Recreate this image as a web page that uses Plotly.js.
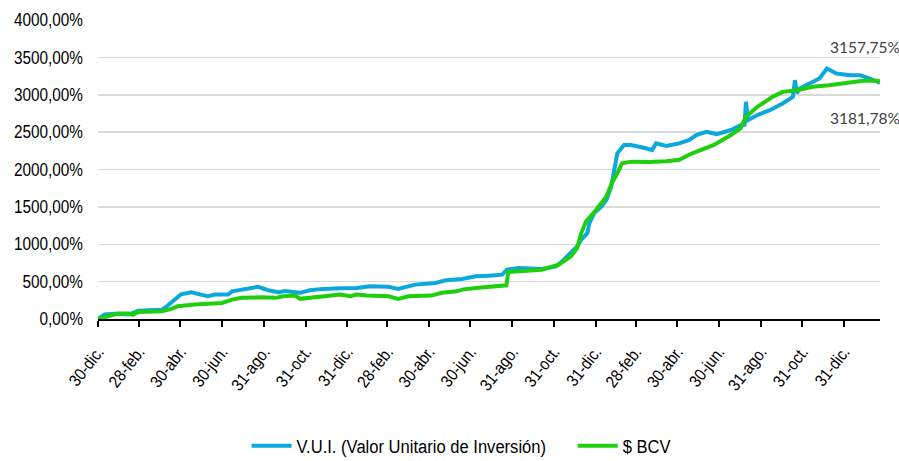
<!DOCTYPE html>
<html>
<head>
<meta charset="utf-8">
<script src="https://cdn.plot.ly/plotly-3.0.1.min.js"></script>
<style>
html,body{margin:0;padding:0;background:#fff;}
#chart{width:899px;height:461px;}
</style>
</head>
<body>
<div id="chart"></div>
<script>
// V.U.I. (Valor Unitario de Inversión) — rendimiento acumulado (%)
const vuiDates = ['2020-12-30','2021-01-09','2021-01-24','2021-02-13','2021-02-27','2021-03-17','2021-04-03','2021-04-10','2021-04-21','2021-05-01','2021-05-16','2021-05-25','2021-06-09','2021-06-20','2021-07-09','2021-07-15','2021-07-29','2021-08-18','2021-08-22','2021-09-06','2021-09-21','2021-10-01','2021-10-16','2021-10-23','2021-11-06','2021-11-26','2021-12-21','2022-01-14','2022-02-02','2022-03-02','2022-03-16','2022-04-10','2022-05-10','2022-05-25','2022-06-18','2022-07-08','2022-07-27','2022-08-16','2022-08-23','2022-09-09','2022-10-13','2022-11-03','2022-11-12','2022-11-25','2022-12-04','2022-12-10','2022-12-19','2022-12-22','2022-12-29','2023-01-09','2023-01-16','2023-01-23','2023-01-28','2023-02-01','2023-02-11','2023-02-21','2023-03-15','2023-03-24','2023-03-30','2023-04-14','2023-05-03','2023-05-18','2023-05-28','2023-06-12','2023-06-27','2023-07-18','2023-08-01','2023-08-07','2023-08-09','2023-08-12','2023-08-26','2023-09-13','2023-10-02','2023-10-17','2023-10-20','2023-10-23','2023-10-27','2023-11-11','2023-11-25','2023-12-06','2023-12-20','2024-01-09','2024-01-24','2024-02-07','2024-02-22'];
const vuiValues = [0,60,70,60,110,115,125,170,260,330,357,340,305,327,327,370,395,420,430,385,357,375,357,350,385,403,410,416,437,430,403,460,483,517,536,571,580,593,660,683,670,704,771,883,971,1060,1150,1283,1417,1505,1594,1771,2038,2217,2328,2328,2284,2260,2350,2314,2350,2395,2461,2505,2474,2528,2594,2600,2906,2661,2728,2794,2884,2972,3195,3020,3084,3150,3217,3350,3283,3261,3261,3217,3157.75];

// $ BCV — variación acumulada (%)
const bcvDates = ['2020-12-30','2021-01-13','2021-01-28','2021-02-13','2021-02-19','2021-02-27','2021-03-17','2021-04-03','2021-04-17','2021-04-26','2021-05-21','2021-06-16','2021-06-30','2021-07-15','2021-07-29','2021-08-28','2021-09-17','2021-09-28','2021-10-16','2021-10-23','2021-11-06','2021-11-26','2021-12-21','2022-01-05','2022-01-14','2022-01-29','2022-03-02','2022-03-16','2022-03-31','2022-05-04','2022-05-19','2022-06-10','2022-06-18','2022-07-08','2022-07-27','2022-08-16','2022-08-22','2022-08-25','2022-09-09','2022-10-13','2022-11-07','2022-11-25','2022-12-04','2022-12-10','2022-12-17','2023-01-01','2023-01-16','2023-01-24','2023-02-01','2023-02-08','2023-02-22','2023-03-20','2023-04-14','2023-05-03','2023-05-22','2023-06-23','2023-07-18','2023-08-01','2023-08-09','2023-08-26','2023-09-17','2023-10-02','2023-10-23','2023-11-15','2023-12-09','2024-01-04','2024-01-28','2024-02-18','2024-02-22'];
const bcvValues = [0,40,73,73,55,95,105,105,135,170,193,203,215,260,283,290,283,305,313,270,283,313,327,305,327,313,305,270,305,313,350,370,393,416,430,447,450,630,638,660,727,838,950,1150,1305,1461,1638,1817,1950,2083,2105,2100,2110,2130,2217,2328,2461,2550,2705,2839,2972,3039,3061,3106,3128,3159,3186,3186,3181.78];

// Eje X: fechas de marca y etiquetas
const tickDates = ['2020-12-30','2021-02-28','2021-04-30','2021-06-30','2021-08-31','2021-10-31','2021-12-31','2022-02-28','2022-04-30','2022-06-30','2022-08-31','2022-10-31','2022-12-31','2023-02-28','2023-04-30','2023-06-30','2023-08-31','2023-10-31','2023-12-31'];
const tickLabels = ['30-dic.','28-feb.','30-abr.','30-jun.','31-ago.','31-oct.','31-dic.','28-feb.','30-abr.','30-jun.','31-ago.','31-oct.','31-dic.','28-feb.','30-abr.','30-jun.','31-ago.','31-oct.','31-dic.'];

const seriesNames = ['V.U.I. (Valor Unitario de Inversión)', '$ BCV'];
const endLabels = ['3157,75%', '3181,78%'];

const FONT = '"Liberation Sans", Arial, sans-serif';

const traces = [
  {x: vuiDates, y: vuiValues, type: 'scatter', mode: 'lines', name: seriesNames[0],
   line: {color: '#0ba8de', width: 4}},
  {x: bcvDates, y: bcvValues, type: 'scatter', mode: 'lines', name: seriesNames[1],
   line: {color: '#1fcf0e', width: 4}}
];

const layout = {
  width: 899, height: 461,
  margin: {l: 98, r: 19, t: 20, b: 141.5, pad: 0, autoexpand: false},
  paper_bgcolor: '#ffffff', plot_bgcolor: '#ffffff',
  separators: ',.',
  font: {family: FONT, size: 16, color: '#000000'},
  showlegend: true,
  legend: {orientation: 'h', x: 0.19, xanchor: 'left', y: -0.425, yanchor: 'middle',
           font: {family: FONT, size: 18, color: '#000'}, itemwidth: 40, traceorder: 'normal'},
  xaxis: {
    type: 'date', range: ['2020-12-30', '2024-02-22'],
    tickmode: 'array', tickvals: tickDates, ticktext: tickLabels,
    tickangle: -52, tickfont: {family: FONT, size: 17, color: '#000'},
    ticks: 'outside', ticklen: 6, tickwidth: 2, tickcolor: '#000',
    ticklabelstandoff: 8, automargin: false,
    showline: true, linecolor: '#000', linewidth: 2,
    showgrid: false, zeroline: false, fixedrange: true
  },
  yaxis: {
    range: [0, 4000], dtick: 500, tick0: 0,
    tickformat: '.2f', ticksuffix: '%',
    tickfont: {family: FONT, size: 17.5, color: '#000'},
    ticks: '', ticklabelstandoff: 14, automargin: false,
    showgrid: true, gridcolor: '#d9d9d9', gridwidth: 1.5,
    zeroline: false, showline: false, fixedrange: true
  },
  annotations: [
    {xref: 'paper', yref: 'y', x: 0.933, y: 3635, xanchor: 'left', yanchor: 'middle',
     text: endLabels[0], showarrow: false, font: {family: 'Lato, "Open Sans", sans-serif', size: 15.5, color: '#404040'}},
    {xref: 'paper', yref: 'y', x: 0.933, y: 2688, xanchor: 'left', yanchor: 'middle',
     text: endLabels[1], showarrow: false, font: {family: 'Lato, "Open Sans", sans-serif', size: 15.5, color: '#404040'}}
  ]
};

// condense glyphs horizontally (reference uses a narrow sans face)
function condense(selector, factor) {
  document.querySelectorAll(selector).forEach(function (t) {
    const len = t.getComputedTextLength();
    if (len > 0) {
      t.setAttribute('textLength', (len * factor).toFixed(2));
      t.setAttribute('lengthAdjust', 'spacingAndGlyphs');
    }
  });
}

Plotly.newPlot('chart', traces, layout, {displayModeBar: false, staticPlot: true}).then(function () {
  condense('#chart .ytick text', 0.875);
  condense('#chart .xtick text', 0.88);
  condense('#chart .legendtext', 0.92);
});
</script>
</body>
</html>
